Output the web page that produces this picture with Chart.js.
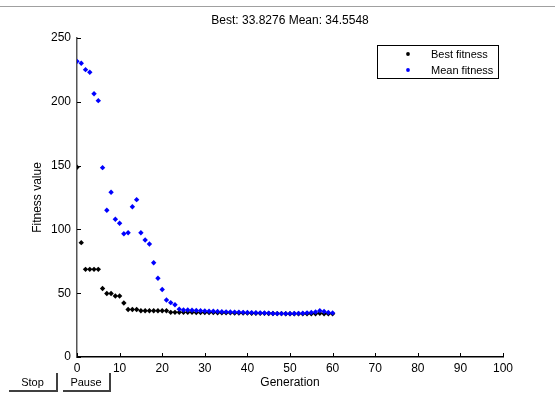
<!DOCTYPE html>
<html><head><meta charset="utf-8">
<script src="https://cdn.jsdelivr.net/npm/chart.js@4"></script>
<style>
html,body{margin:0;padding:0;background:#fff;width:555px;height:394px;overflow:hidden;font-family:"Liberation Sans",Arial,sans-serif;}
#wrap{position:relative;width:555px;height:394px;}
#c{position:absolute;left:0;top:0;}
.topline{position:absolute;left:0;top:6px;width:555px;height:1px;background:#a0a0a0;}
.btn{position:absolute;top:373px;height:17px;font-size:11px;line-height:19px;text-align:center;border-right:2px solid #404040;border-bottom:2px solid #404040;color:#000;}
</style></head>
<body>
<div id="wrap">
<div class="topline"></div>
<canvas id="c" width="555" height="394"></canvas>
<div class="btn" style="left:9px;width:47px;">Stop</div>
<div class="btn" style="left:63px;width:46px;">Pause</div>
</div>
<script>
const titleText = 'Best: 33.8276 Mean: 34.5548';
const xAxisLabel = 'Generation';
const yAxisLabel = 'Fitness value';
const seriesNames = ['Best fitness', 'Mean fitness'];
const xTicks = [0,10,20,30,40,50,60,70,80,90,100];
const yTicks = [0,50,100,150,200,250];
const generations = [
  0,1,2,3,4,5,6,7,8,9,10,
  11,12,13,14,15,16,17,18,19,20,21,
  22,23,24,25,26,27,28,29,
  30,31,32,33,34,35,36,37,38,39,
  40,41,42,43,44,45,46,47,48,49,
  50,51,52,53,54,55,56,57,58,59,60
];
const bestFitness = [
  148.7,89.6,68.7,68.7,68.7,68.7,53.7,49.8,49.8,47.8,47.8,
  42.3,37.2,37.2,37.2,36.3,36.3,36.3,36.3,36.3,36.3,36.3,
  35.0,35.0,35.0,35.0,35.0,35.0,34.9,34.9,
  34.8,34.8,34.8,34.7,34.7,34.6,34.6,34.5,34.5,34.4,
  34.4,34.3,34.3,34.2,34.2,34.1,34.1,34.0,34.0,33.9,
  33.9,33.9,33.9,33.9,33.9,33.9,33.9,34.2,33.9,33.83,33.83
];
const meanFitness = [
  231.7,230.2,225.2,223.1,206.3,200.9,148.4,115.0,129.1,107.9,104.8,
  96.6,97.4,117.8,123.3,97.4,91.7,88.6,73.9,61.7,52.9,44.7,
  42.6,41.0,37.5,36.8,36.8,36.6,36.5,36.2,
  36.0,35.9,35.8,35.6,35.5,35.4,35.3,35.2,35.1,35.0,
  34.9,34.8,34.7,34.6,34.5,34.4,34.1,34.0,34.0,34.0,
  34.0,34.1,34.2,34.3,34.6,34.9,35.3,36.2,35.6,34.9,34.55
];
const colors = ['#000000','#0000ff'];
const FONT = '"Liberation Sans", Arial, sans-serif';

const deco = {
  id:'deco',
  afterDraw(c){
    const ctx=c.ctx, xs=c.scales.x, ys=c.scales.y, a=c.chartArea;
    ctx.save();
    ctx.strokeStyle='#000'; ctx.lineWidth=1;
    xTicks.forEach(v=>{
      const px=Math.round(xs.getPixelForValue(v))+0.5;
      ctx.beginPath(); ctx.moveTo(px,a.bottom); ctx.lineTo(px,a.bottom-4); ctx.stroke();
    });
    yTicks.forEach(v=>{
      const py=Math.round(ys.getPixelForValue(v))+0.5;
      ctx.beginPath(); ctx.moveTo(a.left,py); ctx.lineTo(a.left+4,py); ctx.stroke();
    });
    // title
    ctx.fillStyle='#000';
    ctx.font='12px '+FONT; ctx.textAlign='center'; ctx.textBaseline='middle';
    ctx.fillText(titleText,(a.left+a.right)/2,21);
    // legend
    const lx=377.5, ly=45.5, lw=121, lh=33;
    ctx.fillStyle='#fff'; ctx.fillRect(lx,ly,lw,lh);
    ctx.strokeStyle='#000'; ctx.lineWidth=1; ctx.strokeRect(lx,ly,lw,lh);
    ctx.font='11px '+FONT; ctx.textAlign='left';
    seriesNames.forEach((n,i)=>{
      const yy=54+i*16;
      ctx.fillStyle=colors[i];
      ctx.beginPath(); ctx.arc(408,yy,1.9,0,Math.PI*2); ctx.fill();
      ctx.fillStyle='#000';
      ctx.fillText(n,431,yy+1);
    });
    ctx.restore();
  }
};

new Chart(document.getElementById('c'),{
  type:'scatter',
  data:{datasets:[
    {label:seriesNames[0],data:generations.map((g,i)=>({x:g,y:bestFitness[i]})),
     pointStyle:'rectRot',radius:2.7,borderWidth:0,backgroundColor:colors[0],borderColor:colors[0],order:1},
    {label:seriesNames[1],data:generations.map((g,i)=>({x:g,y:meanFitness[i]})),
     pointStyle:'rectRot',radius:2.7,borderWidth:0,backgroundColor:colors[1],borderColor:colors[1],order:0}
  ]},
  options:{
    responsive:false,animation:false,devicePixelRatio:1,
    layout:{padding:{left:0,right:52,top:38,bottom:0}},
    plugins:{legend:{display:false},tooltip:{enabled:false},title:{display:false}},
    scales:{
      x:{type:'linear',min:0,max:100,
        afterBuildTicks(s){s.ticks=xTicks.map(v=>({value:v}));},
        ticks:{padding:4,color:'#000',font:{family:FONT,size:12}},
        grid:{display:false,drawTicks:false},
        border:{display:true,color:'#000',width:1.5},
        title:{display:true,text:xAxisLabel,color:'#000',font:{family:FONT,size:12},padding:{top:0,bottom:4}},
        afterFit(s){s.height=37;}
      },
      y:{type:'linear',min:0,max:250,
        afterBuildTicks(s){s.ticks=yTicks.map(v=>({value:v}));},
        ticks:{padding:6,color:'#000',font:{family:FONT,size:12}},
        grid:{display:false,drawTicks:false},
        border:{display:true,color:'#555',width:1.5},
        title:{display:true,text:yAxisLabel,color:'#000',font:{family:FONT,size:12},padding:{top:30,bottom:0}},
        afterFit(s){s.width=77;}
      }
    }
  },
  plugins:[deco]
});
</script>
</body></html>
